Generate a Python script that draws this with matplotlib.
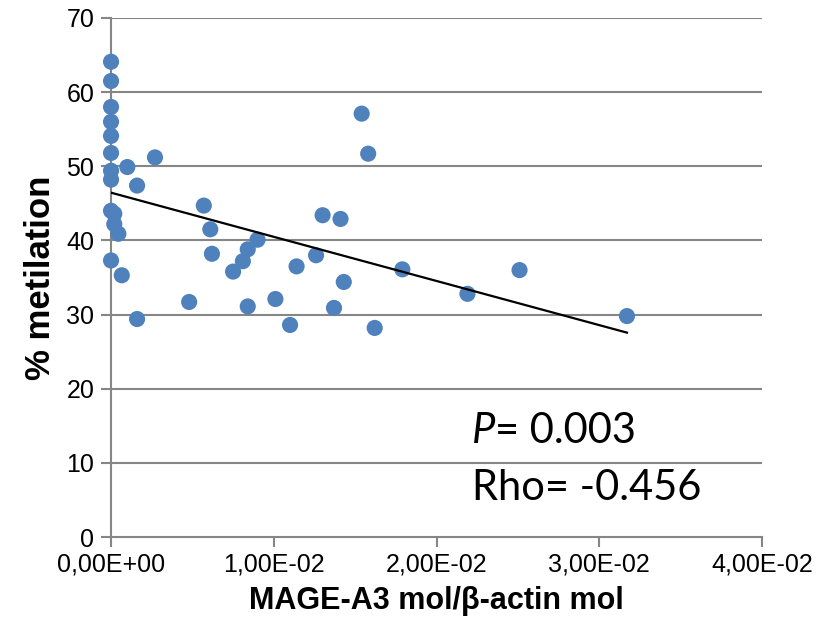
import numpy as np
import matplotlib
matplotlib.use("Agg")
import matplotlib.pyplot as plt

# MAGE-A3 expression (mol/β-actin mol) vs % methylation
mage_a3 = [0, 0, 0, 0, 0, 0, 0, 0, 0, 0,
           0.0002, 0.0002, 0.00045, 0.00066, 0.0010, 0.0016, 0.0016, 0.0027,
           0.0048, 0.0057, 0.0061, 0.0062, 0.0075, 0.0081, 0.0084, 0.0084,
           0.0090, 0.0101, 0.0110, 0.0114, 0.0126, 0.0130, 0.0137, 0.0141,
           0.0143, 0.0154, 0.0158, 0.0162, 0.0179, 0.0219, 0.0251, 0.0317]
metilation = [64.1, 61.5, 58.0, 56.0, 54.1, 51.8, 49.4, 48.2, 44.0, 37.3,
              43.6, 42.2, 40.9, 35.3, 49.9, 47.4, 29.4, 51.2,
              31.7, 44.7, 41.5, 38.2, 35.8, 37.2, 38.8, 31.1,
              40.1, 32.1, 28.6, 36.5, 38.0, 43.4, 30.9, 42.9,
              34.4, 57.1, 51.7, 28.2, 36.1, 32.8, 36.0, 29.8]

xticks = [0, 0.01, 0.02, 0.03, 0.04]
xtick_labels = ["0,00E+00", "1,00E-02", "2,00E-02", "3,00E-02", "4,00E-02"]
yticks = list(range(0, 71, 10))

x = np.array(mage_a3)
y = np.array(metilation)

plt.rcParams['font.family'] = ['Liberation Sans', 'DejaVu Sans']

fig = plt.figure(figsize=(8.33, 6.27), dpi=100)
ax = fig.add_axes([0.1333, 0.1435, 0.7815, 0.8278])

grid_col = '#868686'
ax.scatter(x, y, s=135, color='#4F81BD', edgecolors='none', zorder=3, clip_on=False)

# linear trendline
slope, intercept = np.polyfit(x, y, 1)
xs = np.array([0, x.max()])
ax.plot(xs, intercept + slope * xs, color='black', lw=1.6, zorder=4)

ax.set_xlim(0, 0.04)
ax.set_ylim(0, 70)
ax.set_xticks(xticks)
ax.set_xticklabels(xtick_labels)
ax.set_yticks(yticks)

for v in yticks[1:]:
    ax.axhline(v, color=grid_col, lw=1.5, zorder=1)

for side in ['top', 'right']:
    ax.spines[side].set_visible(False)
for side in ['left', 'bottom']:
    ax.spines[side].set_color(grid_col)
    ax.spines[side].set_linewidth(1.5)

ax.tick_params(axis='both', colors=grid_col, length=7, width=1.5, labelsize=18,
               labelcolor='black')
ax.tick_params(axis='x', pad=4)
ax.tick_params(axis='y', pad=5)

ax.set_xlabel("MAGE-A3 mol/β-actin mol", fontsize=22, fontweight='bold', labelpad=7)
ax.set_ylabel("% metilation", fontsize=25, fontweight='bold', labelpad=7)

ax.text(0.0222, 12.7, "P", fontsize=30, family='Lato', style='italic', color='black')
ax.text(0.0236, 12.7, "= 0.003", fontsize=30, family='Lato', color='black')
ax.text(0.0222, 5.0, "Rho= -0.456", fontsize=30, family='Lato', color='black')

fig.savefig("out.png", dpi=100)
